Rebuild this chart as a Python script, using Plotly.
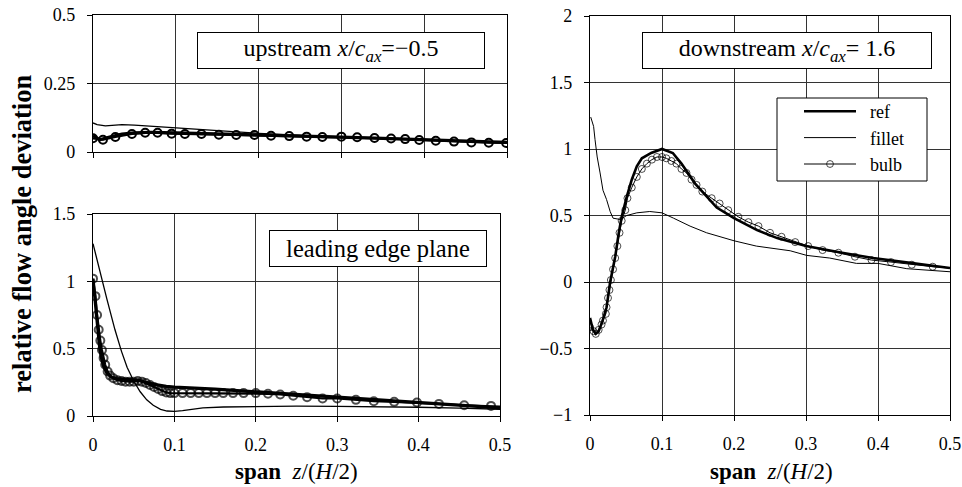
import plotly.graph_objects as go

W, H = 962, 487
FONT = "Liberation Serif, Times New Roman, Times, serif"

# ---------------- upstream x/c_ax = -0.5 (top-left) ----------------
up_ref_x = [0, 0.008, 0.02, 0.035, 0.05, 0.07, 0.1, 0.13, 0.16, 0.2, 0.25, 0.3, 0.35, 0.4, 0.45, 0.48, 0.5]
up_ref_y = [0.06, 0.045, 0.055, 0.065, 0.07, 0.072, 0.07, 0.068, 0.065, 0.062, 0.058, 0.054, 0.05, 0.046, 0.041, 0.037, 0.035]
up_fil_x = [0, 0.005, 0.015, 0.025, 0.035, 0.05, 0.065, 0.08, 0.1, 0.13, 0.16, 0.2, 0.26, 0.32, 0.38, 0.44, 0.5]
up_fil_y = [0.106, 0.1, 0.095, 0.097, 0.1, 0.098, 0.095, 0.09, 0.086, 0.08, 0.074, 0.068, 0.06, 0.053, 0.046, 0.04, 0.035]
up_bulb_x = [0, 0.012, 0.027, 0.047, 0.063, 0.078, 0.095, 0.111, 0.131, 0.152, 0.173, 0.195, 0.215, 0.237,
             0.258, 0.277, 0.3, 0.319, 0.34, 0.36, 0.377, 0.394, 0.414, 0.436, 0.457, 0.478, 0.499]
up_bulb_y = [0.05, 0.045, 0.055, 0.066, 0.07, 0.07, 0.067, 0.066, 0.066, 0.063, 0.062, 0.062, 0.059, 0.058,
             0.056, 0.055, 0.056, 0.054, 0.051, 0.049, 0.047, 0.044, 0.041, 0.038, 0.035, 0.034, 0.033]

# ---------------- leading edge plane (bottom-left) ----------------
le_ref_x = [0, 0.002, 0.004, 0.006, 0.008, 0.01, 0.013, 0.017, 0.022, 0.03, 0.04, 0.05, 0.057, 0.065, 0.075,
            0.09, 0.1, 0.15, 0.2, 0.25, 0.3, 0.35, 0.4, 0.45, 0.5]
le_ref_y = [1.02, 0.9, 0.75, 0.62, 0.52, 0.44, 0.37, 0.32, 0.29, 0.275, 0.27, 0.27, 0.265, 0.25, 0.235,
            0.22, 0.215, 0.2, 0.18, 0.16, 0.14, 0.12, 0.1, 0.08, 0.06]
le_fil_x = [0, 0.008, 0.017, 0.027, 0.035, 0.042, 0.05, 0.058, 0.066, 0.074, 0.083, 0.091, 0.1, 0.11, 0.12,
            0.135, 0.16, 0.2, 0.25, 0.3, 0.35, 0.4, 0.45, 0.5]
le_fil_y = [1.28, 1.08, 0.87, 0.64, 0.48, 0.36, 0.26, 0.18, 0.12, 0.08, 0.05, 0.037, 0.035, 0.04, 0.05,
            0.06, 0.067, 0.072, 0.073, 0.072, 0.07, 0.065, 0.058, 0.05]
le_bulb_x = [0, 0.003, 0.005, 0.007, 0.009, 0.011, 0.013, 0.015, 0.018, 0.021, 0.025, 0.03, 0.035, 0.04, 0.045,
             0.05, 0.055, 0.06, 0.065, 0.07, 0.075, 0.08, 0.085, 0.09, 0.095, 0.1, 0.11, 0.12, 0.13, 0.14,
             0.15, 0.16, 0.172, 0.185, 0.2, 0.215, 0.23, 0.246, 0.263, 0.282, 0.3, 0.323, 0.345, 0.37,
             0.398, 0.425, 0.456, 0.489, 0.5]
le_bulb_y = [1.02, 0.89, 0.75, 0.64, 0.56, 0.49, 0.43, 0.38, 0.33, 0.3, 0.28, 0.265, 0.26, 0.255, 0.255,
             0.255, 0.26, 0.255, 0.245, 0.23, 0.215, 0.2, 0.185, 0.175, 0.17, 0.17, 0.17, 0.17, 0.17, 0.17,
             0.17, 0.17, 0.17, 0.17, 0.17, 0.165, 0.16, 0.15, 0.14, 0.13, 0.13, 0.12, 0.11, 0.105,
             0.1, 0.09, 0.08, 0.075, 0.07]

# ---------------- downstream x/c_ax = 1.6 (right) ----------------
ds_ref_x = [0, 0.004, 0.008, 0.012, 0.017, 0.023, 0.028, 0.035, 0.04, 0.044, 0.051, 0.058, 0.065, 0.072,
            0.085, 0.1, 0.115, 0.127, 0.146, 0.176, 0.2, 0.232, 0.26, 0.3, 0.35, 0.393, 0.45, 0.5]
ds_ref_y = [-0.27, -0.36, -0.39, -0.37, -0.3, -0.19, 0.0, 0.19, 0.37, 0.49, 0.64, 0.77, 0.87, 0.93,
            0.97, 1.0, 0.97, 0.89, 0.74, 0.56, 0.48, 0.39, 0.33, 0.27, 0.22, 0.18, 0.14, 0.105]
ds_fil_x = [0.001, 0.005, 0.007, 0.01, 0.014, 0.018, 0.023, 0.028, 0.032, 0.042, 0.051, 0.065, 0.083, 0.1,
            0.116, 0.139, 0.162, 0.183, 0.2, 0.231, 0.255, 0.278, 0.301, 0.333, 0.37, 0.4, 0.44, 0.5]
ds_fil_y = [1.24, 1.17, 1.07, 0.94, 0.82, 0.69, 0.62, 0.53, 0.48, 0.47, 0.5, 0.52, 0.53, 0.52,
            0.48, 0.42, 0.37, 0.335, 0.31, 0.27, 0.25, 0.235, 0.2, 0.18, 0.14, 0.14, 0.1, 0.077]
ds_bulb_x = [0, 0.005, 0.008, 0.012, 0.016, 0.018, 0.022, 0.023, 0.025, 0.027, 0.029, 0.032, 0.035, 0.038,
             0.041, 0.044, 0.049, 0.052, 0.058, 0.065, 0.072, 0.079, 0.086, 0.093, 0.1, 0.106, 0.113, 0.12,
             0.127, 0.134, 0.141, 0.148, 0.156, 0.169, 0.18, 0.192, 0.206, 0.22, 0.234, 0.25, 0.266, 0.285,
             0.303, 0.323, 0.345, 0.368, 0.391, 0.418, 0.447, 0.476, 0.5]
ds_bulb_y = [-0.34, -0.37, -0.39, -0.36, -0.32, -0.29, -0.24, -0.19, -0.12, -0.06, 0.015, 0.095, 0.18, 0.27,
             0.37, 0.46, 0.54, 0.63, 0.71, 0.79, 0.85, 0.89, 0.92, 0.94, 0.94, 0.93, 0.91, 0.89,
             0.85, 0.82, 0.77, 0.73, 0.68, 0.63, 0.59, 0.54, 0.49, 0.45, 0.42, 0.37, 0.34, 0.30,
             0.27, 0.24, 0.22, 0.19, 0.165, 0.15, 0.13, 0.115, 0.105]

x_ticks = [0, 0.1, 0.2, 0.3, 0.4, 0.5]
x_tick_labels = ["0", "0.1", "0.2", "0.3", "0.4", "0.5"]
up_y_ticks = [0, 0.25, 0.5]
up_y_labels = ["0", "0.25", "0.5"]
le_y_ticks = [0, 0.5, 1, 1.5]
le_y_labels = ["0", "0.5", "1", "1.5"]
ds_y_ticks = [-1, -0.5, 0, 0.5, 1, 1.5, 2]
ds_y_labels = ["\u22121", "\u22120.5", "0", "0.5", "1", "1.5", "2"]

series_names = ["ref", "fillet", "bulb"]
legend_pad = "\u00a0\u00a0"


def px_x(p):
    return p / W


def px_y(p):
    return 1 - p / H


def last_hidden(n, size):
    return [size] * (n - 1) + [0]


fig = go.Figure()

panels = [
    ("x", "y", up_ref_x, up_ref_y, up_fil_x, up_fil_y, up_bulb_x, up_bulb_y, False),
    ("x2", "y2", le_ref_x, le_ref_y, le_fil_x, le_fil_y, le_bulb_x, le_bulb_y, False),
    ("x3", "y3", ds_ref_x, ds_ref_y, ds_fil_x, ds_fil_y, ds_bulb_x, ds_bulb_y, True),
]
for xa, ya, rx, ry, fx, fy, bx, by, legend in panels:
    bold = not legend
    fig.add_trace(go.Scatter(x=rx, y=ry, mode="lines", name=legend_pad + series_names[0], xaxis=xa, yaxis=ya,
                             line=dict(color="black", width=3.2 if bold else 2.6), showlegend=legend))
    fig.add_trace(go.Scatter(x=fx, y=fy, mode="lines", name=legend_pad + series_names[1], xaxis=xa, yaxis=ya,
                             line=dict(color="black", width=1.3 if bold else 1.0), showlegend=legend))
    if bold:
        sizes = last_hidden(len(bx), 8) if bx[-1] >= 0.5 else 8
    else:
        sizes = last_hidden(len(bx), 7)
    fig.add_trace(go.Scatter(x=bx, y=by, mode="lines+markers", name=legend_pad + series_names[2],
                             xaxis=xa, yaxis=ya,
                             line=dict(color="black", width=2.2 if bold else 1.0),
                             marker=dict(symbol="circle-open", size=sizes, color="black",
                                         line=dict(width=2 if bold else 1, color="black")),
                             showlegend=legend))


def xaxis(domain, anchor, labels):
    return dict(domain=domain, anchor=anchor, range=[0, 0.5], tickvals=x_ticks, ticktext=x_tick_labels,
                showticklabels=labels, showgrid=True, gridcolor="#333333", gridwidth=1, zeroline=False,
                showline=True, linecolor="black", linewidth=1.2, mirror=True, ticks="outside", ticklen=5,
                tickcolor="black", ticklabelstandoff=7, automargin=False,
                tickfont=dict(family=FONT, size=18, color="black"))


def yaxis(domain, anchor, rng, vals, labels):
    return dict(domain=domain, anchor=anchor, range=rng, tickvals=vals, ticktext=labels,
                showgrid=True, gridcolor="#333333", gridwidth=1, zeroline=False,
                showline=True, linecolor="black", linewidth=1.2, mirror=True, ticks="outside", ticklen=5,
                tickcolor="black", ticklabelstandoff=8, automargin=False,
                tickfont=dict(family=FONT, size=18, color="black"))


box_style = dict(xref="paper", yref="paper", showarrow=False, bordercolor="black", borderwidth=1,
                 borderpad=0, bgcolor="white", xanchor="center", yanchor="middle")

annotations = [
    dict(x=px_x(341), y=px_y(50.5), text="upstream <i>x</i>/<i>c<sub>ax</sub></i>=\u22120.5",
         width=286, height=35, font=dict(family=FONT, size=24, color="black"), **box_style),
    dict(x=px_x(378), y=px_y(248.5), text="leading edge plane", width=216, height=35,
         font=dict(family=FONT, size=24.5, color="black"), **box_style),
    dict(x=px_x(787), y=px_y(50.5), text="downstream <i>x</i>/<i>c<sub>ax</sub></i>= 1.6",
         width=288, height=35, font=dict(family=FONT, size=24, color="black"), **box_style),
    dict(x=px_x(296), y=px_y(471), xref="paper", yref="paper", showarrow=False,
         text="<b>span</b>  <i>z</i>/(<i>H</i>/2)", font=dict(family=FONT, size=23, color="black"),
         xanchor="center", yanchor="middle"),
    dict(x=px_x(771), y=px_y(471), xref="paper", yref="paper", showarrow=False,
         text="<b>span</b>  <i>z</i>/(<i>H</i>/2)", font=dict(family=FONT, size=23, color="black"),
         xanchor="center", yanchor="middle"),
    dict(x=px_x(22), y=px_y(234), xref="paper", yref="paper", showarrow=False, textangle=-90,
         text="<b>relative flow angle deviation</b>", font=dict(family=FONT, size=26.5, color="black"),
         xanchor="center", yanchor="middle"),
]

# legend frame
shapes = [dict(type="rect", xref="paper", yref="paper", x0=px_x(777), x1=px_x(927), y0=px_y(181), y1=px_y(98),
               line=dict(color="black", width=1), fillcolor="white", layer="above")]

fig.update_layout(
    width=W, height=H, margin=dict(l=0, r=0, t=0, b=0, autoexpand=False),
    paper_bgcolor="white", plot_bgcolor="white",
    font=dict(family=FONT, color="black"),
    xaxis=xaxis([px_x(93), px_x(507)], "y", False),
    yaxis=yaxis([px_y(152), px_y(15)], "x", [0, 0.5], up_y_ticks, up_y_labels),
    xaxis2=xaxis([px_x(93), px_x(500)], "y2", True),
    yaxis2=yaxis([px_y(416), px_y(214)], "x2", [0, 1.5], le_y_ticks, le_y_labels),
    xaxis3=xaxis([px_x(590), px_x(950)], "y3", True),
    yaxis3=yaxis([px_y(415), px_y(16)], "x3", [-1, 2], ds_y_ticks, ds_y_labels),
    annotations=annotations,
    shapes=shapes,
    legend=dict(x=px_x(799), y=px_y(93), xanchor="left", yanchor="top", bgcolor="rgba(0,0,0,0)",
                borderwidth=0, itemwidth=52,
                font=dict(family=FONT, size=18, color="black")),
    showlegend=True,
)

fig.write_html("out.html",
               config={"displayModeBar": False, "staticPlot": True},
               post_script="document.body.style.margin='0';document.body.style.overflow='hidden';")
